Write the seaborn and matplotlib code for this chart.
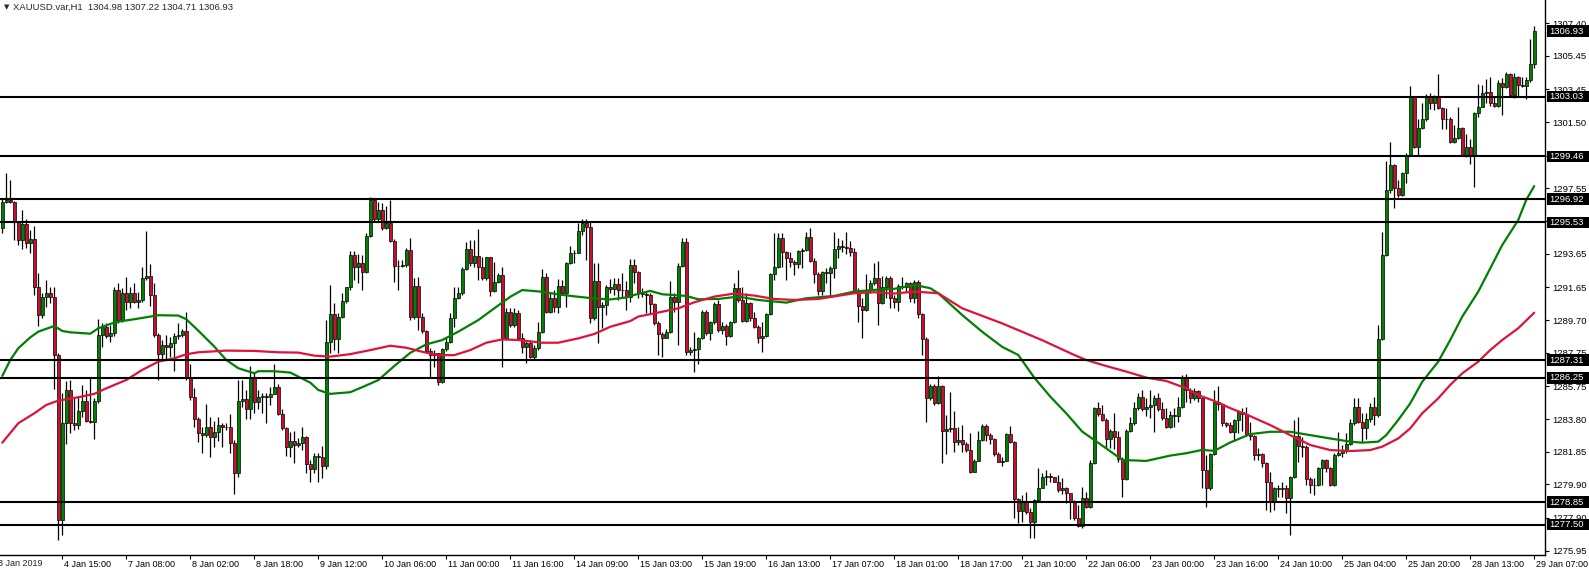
import numpy as np
import matplotlib
matplotlib.use("Agg")
import matplotlib.pyplot as plt
import matplotlib.transforms as mtransforms
from matplotlib.patches import Rectangle
import seaborn as sns

# XAUUSD H1 candles, bar 0 .. 383 (open of each bar = close of previous bar)
first_open = 1295.17
closes = [
    1296.77, 1296.86, 1296.77, 1295.57, 1294.48, 1295.43, 1294.28, 1294.52, 1291.70, 1290.01,  # 0
    1291.10, 1291.30, 1291.10, 1287.62, 1277.78, 1283.55, 1285.54, 1283.55, 1283.45, 1284.30,  # 10
    1284.90, 1283.71, 1283.65, 1284.90, 1288.81, 1289.31, 1288.75, 1288.91, 1291.50, 1289.71,  # 20
    1291.34, 1290.80, 1291.30, 1290.80, 1290.90, 1292.19, 1292.33, 1291.20, 1288.81, 1287.68,  # 30
    1288.22, 1288.12, 1288.36, 1288.75, 1288.81, 1289.07, 1286.23, 1285.14, 1283.79, 1282.95,  # 40
    1282.85, 1283.35, 1282.71, 1283.05, 1283.45, 1283.35, 1283.31, 1282.36, 1280.61, 1284.90,  # 50
    1284.98, 1284.38, 1286.33, 1284.84, 1285.10, 1285.18, 1285.14, 1285.30, 1285.73, 1284.10,  # 60
    1283.25, 1282.12, 1282.51, 1282.24, 1282.39, 1282.75, 1281.12, 1280.80, 1281.60, 1281.56,  # 70
    1281.00, 1288.37, 1290.04, 1288.55, 1289.90, 1290.83, 1291.65, 1293.58, 1292.84, 1293.08,  # 80
    1292.54, 1294.71, 1296.86, 1295.70, 1296.26, 1295.17, 1295.51, 1294.43, 1292.94, 1292.92,  # 90
    1292.98, 1293.88, 1289.86, 1291.73, 1289.86, 1289.05, 1287.87, 1287.61, 1287.71, 1286.02,  # 100
    1287.95, 1288.41, 1289.80, 1291.00, 1291.29, 1292.72, 1293.92, 1293.08, 1293.52, 1292.84,  # 110
    1292.19, 1293.44, 1291.45, 1291.99, 1292.39, 1288.61, 1290.20, 1289.40, 1290.14, 1288.61,  # 120
    1288.11, 1288.35, 1287.52, 1288.01, 1289.01, 1292.25, 1290.20, 1291.00, 1290.46, 1291.73,  # 130
    1291.33, 1293.08, 1293.68, 1293.72, 1295.03, 1295.51, 1295.23, 1289.80, 1292.05, 1290.46,  # 140
    1290.60, 1291.65, 1291.53, 1291.85, 1291.49, 1291.50, 1291.10, 1292.99, 1292.55, 1291.30,  # 150
    1291.24, 1291.20, 1290.64, 1289.51, 1288.85, 1288.66, 1288.97, 1291.10, 1290.76, 1292.95,  # 160
    1294.34, 1287.82, 1287.92, 1287.98, 1288.62, 1290.21, 1288.91, 1289.57, 1290.64, 1289.11,  # 170
    1289.37, 1288.78, 1289.57, 1291.60, 1290.90, 1289.65, 1290.70, 1289.81, 1289.31, 1288.62,  # 180
    1288.78, 1290.05, 1292.43, 1292.89, 1294.58, 1293.74, 1293.39, 1293.15, 1293.03, 1293.82,  # 190
    1293.88, 1294.68, 1293.23, 1292.43, 1291.44, 1292.55, 1292.49, 1292.83, 1293.94, 1294.14,  # 200
    1294.08, 1293.98, 1293.78, 1291.40, 1290.56, 1290.31, 1291.50, 1291.90, 1292.23, 1290.70,  # 210
    1291.70, 1292.23, 1291.00, 1290.80, 1291.76, 1291.70, 1291.90, 1291.04, 1291.96, 1290.05,  # 220
    1288.58, 1285.04, 1285.79, 1284.74, 1285.79, 1283.09, 1283.21, 1283.25, 1282.41, 1282.55,  # 230
    1282.29, 1281.96, 1280.62, 1281.30, 1282.55, 1283.41, 1282.85, 1282.61, 1281.70, 1281.26,  # 240
    1281.30, 1282.89, 1282.41, 1279.03, 1278.32, 1278.83, 1278.24, 1277.64, 1278.97, 1279.71,  # 250
    1280.37, 1280.42, 1280.37, 1280.07, 1279.57, 1279.71, 1279.37, 1278.87, 1277.92, 1277.44,  # 260
    1279.11, 1278.58, 1281.16, 1284.48, 1284.08, 1283.74, 1282.61, 1283.09, 1282.75, 1281.42,  # 270
    1280.23, 1283.09, 1283.55, 1284.44, 1285.14, 1284.40, 1284.54, 1284.64, 1285.04, 1284.40,  # 280
    1283.88, 1283.35, 1284.04, 1284.00, 1284.54, 1286.33, 1285.53, 1285.08, 1285.47, 1285.04,  # 290
    1280.76, 1279.71, 1281.70, 1284.84, 1284.68, 1283.55, 1283.45, 1283.05, 1283.74, 1284.20,  # 300
    1284.08, 1282.89, 1282.78, 1281.65, 1281.71, 1281.19, 1280.06, 1278.87, 1279.66, 1279.60,  # 310
    1279.66, 1279.07, 1280.36, 1282.78, 1282.19, 1282.15, 1280.20, 1279.86, 1279.86, 1280.86,  # 320
    1281.35, 1280.86, 1279.86, 1281.65, 1281.75, 1281.95, 1282.31, 1283.54, 1284.53, 1283.64,  # 330
    1283.24, 1283.78, 1284.53, 1284.04, 1288.55, 1293.58, 1297.45, 1298.94, 1297.55, 1297.16,  # 340
    1298.45, 1299.54, 1302.98, 1300.04, 1301.13, 1301.67, 1302.98, 1302.62, 1302.98, 1302.32,  # 350
    1301.67, 1301.67, 1300.34, 1300.53, 1301.13, 1299.54, 1300.04, 1299.48, 1302.02, 1302.42,  # 360
    1303.26, 1303.32, 1302.62, 1302.46, 1303.85, 1303.61, 1304.37, 1303.12, 1304.17, 1303.71,  # 370
    1303.65, 1304.01, 1304.98, 1306.93,  # 380
]
highs = [
    1296.90, 1298.45, 1298.06, 1296.82, 1295.61, 1296.27, 1295.71, 1295.08, 1295.31, 1292.49,  # 0
    1291.34, 1292.09, 1291.66, 1291.66, 1287.76, 1285.34, 1286.09, 1286.13, 1285.10, 1285.14,  # 10
    1285.81, 1285.54, 1286.33, 1285.04, 1289.75, 1289.51, 1289.51, 1289.41, 1291.70, 1291.90,  # 20
    1291.60, 1292.29, 1291.70, 1291.94, 1291.40, 1292.89, 1295.02, 1293.05, 1291.94, 1288.91,  # 30
    1288.52, 1288.81, 1288.71, 1288.91, 1289.55, 1289.15, 1290.21, 1287.09, 1285.63, 1283.91,  # 40
    1283.35, 1284.70, 1283.94, 1283.71, 1283.94, 1283.59, 1283.59, 1284.10, 1282.55, 1286.13,  # 50
    1286.13, 1285.54, 1286.97, 1286.53, 1285.54, 1285.34, 1285.38, 1285.73, 1287.09, 1285.89,  # 60
    1284.38, 1283.35, 1283.05, 1283.11, 1282.65, 1283.35, 1282.79, 1281.36, 1281.76, 1281.76,  # 70
    1282.20, 1289.70, 1291.79, 1290.70, 1290.14, 1291.29, 1291.69, 1293.84, 1293.84, 1293.64,  # 80
    1293.58, 1294.87, 1297.06, 1296.92, 1296.76, 1296.70, 1296.50, 1296.86, 1294.51, 1293.28,  # 90
    1293.28, 1293.98, 1294.57, 1292.19, 1292.25, 1290.10, 1289.11, 1288.01, 1287.91, 1287.61,  # 100
    1288.01, 1288.71, 1290.14, 1291.65, 1291.65, 1292.84, 1294.37, 1294.47, 1294.47, 1295.11,  # 110
    1293.48, 1293.48, 1293.38, 1293.18, 1292.52, 1292.88, 1290.40, 1290.40, 1290.40, 1290.30,  # 120
    1288.91, 1288.51, 1288.51, 1288.21, 1289.60, 1292.72, 1292.48, 1291.29, 1291.49, 1292.13,  # 130
    1292.09, 1293.18, 1294.11, 1293.88, 1295.51, 1295.70, 1295.70, 1295.63, 1293.08, 1293.08,  # 140
    1290.80, 1291.79, 1292.13, 1292.19, 1292.19, 1292.49, 1292.03, 1293.35, 1293.35, 1292.63,  # 150
    1291.60, 1291.40, 1291.30, 1290.70, 1289.65, 1289.01, 1289.17, 1292.03, 1291.30, 1293.09,  # 160
    1294.58, 1294.58, 1288.12, 1289.01, 1288.72, 1290.31, 1290.31, 1289.65, 1290.76, 1290.90,  # 170
    1289.61, 1289.45, 1289.65, 1291.90, 1292.69, 1291.70, 1291.30, 1290.76, 1290.21, 1289.41,  # 180
    1289.61, 1290.11, 1292.49, 1294.88, 1294.88, 1294.88, 1293.82, 1293.78, 1293.29, 1293.88,  # 190
    1293.98, 1294.98, 1295.21, 1293.39, 1292.55, 1292.63, 1292.83, 1292.95, 1294.94, 1294.58,  # 200
    1294.48, 1294.94, 1294.42, 1293.98, 1291.60, 1291.00, 1292.43, 1292.09, 1293.09, 1293.23,  # 210
    1292.35, 1292.35, 1292.35, 1291.20, 1291.84, 1292.29, 1292.00, 1292.00, 1292.09, 1292.09,  # 220
    1290.11, 1288.72, 1285.87, 1285.87, 1286.39, 1285.83, 1284.04, 1285.39, 1284.28, 1283.35,  # 230
    1283.45, 1282.41, 1282.95, 1281.42, 1283.09, 1283.49, 1283.49, 1282.95, 1282.69, 1281.82,  # 240
    1281.56, 1282.95, 1283.41, 1282.49, 1279.11, 1279.27, 1279.43, 1278.48, 1279.03, 1280.90,  # 250
    1280.56, 1280.76, 1280.56, 1280.23, 1280.46, 1280.27, 1279.77, 1278.91, 1278.97, 1278.68,  # 260
    1279.77, 1279.47, 1281.36, 1284.54, 1284.84, 1284.64, 1283.84, 1283.21, 1284.14, 1283.09,  # 270
    1281.56, 1283.21, 1283.94, 1284.84, 1285.33, 1285.53, 1285.08, 1285.53, 1285.23, 1285.33,  # 280
    1284.80, 1284.44, 1284.28, 1284.44, 1285.13, 1286.43, 1286.47, 1285.63, 1285.63, 1285.53,  # 290
    1285.04, 1281.66, 1281.76, 1285.53, 1285.79, 1284.74, 1283.64, 1283.64, 1283.80, 1284.34,  # 300
    1284.48, 1284.54, 1283.64, 1282.84, 1282.05, 1281.79, 1281.25, 1280.66, 1279.76, 1279.86,  # 310
    1280.06, 1279.86, 1280.40, 1283.74, 1283.90, 1282.74, 1282.25, 1280.36, 1280.26, 1280.96,  # 320
    1281.39, 1281.39, 1280.96, 1281.75, 1283.04, 1282.25, 1282.94, 1283.78, 1285.03, 1285.03,  # 330
    1284.14, 1284.14, 1284.73, 1285.09, 1289.40, 1294.97, 1299.20, 1300.34, 1299.00, 1298.05,  # 340
    1298.55, 1299.64, 1303.65, 1303.02, 1301.67, 1302.62, 1303.18, 1303.26, 1303.12, 1304.37,  # 350
    1302.38, 1302.32, 1301.83, 1301.33, 1302.38, 1301.19, 1300.79, 1300.47, 1302.12, 1303.77,  # 360
    1303.71, 1304.05, 1304.21, 1303.02, 1304.01, 1304.11, 1304.51, 1304.45, 1304.45, 1304.25,  # 370
    1304.17, 1304.21, 1306.44, 1307.22,  # 380
]
lows = [
    1294.88, 1296.71, 1296.71, 1294.48, 1294.18, 1293.92, 1293.98, 1293.68, 1291.20, 1289.37,  # 0
    1289.81, 1290.50, 1290.74, 1285.57, 1276.59, 1276.89, 1282.32, 1282.95, 1283.15, 1283.19,  # 10
    1283.94, 1283.65, 1283.55, 1282.59, 1284.74, 1288.12, 1288.62, 1288.42, 1288.75, 1289.51,  # 20
    1289.61, 1290.30, 1290.40, 1290.70, 1290.40, 1290.80, 1292.09, 1290.56, 1288.71, 1286.13,  # 30
    1287.36, 1287.32, 1287.52, 1286.69, 1288.56, 1288.72, 1286.13, 1284.94, 1283.35, 1282.45,  # 40
    1281.80, 1282.75, 1281.56, 1282.12, 1282.51, 1282.16, 1283.15, 1281.76, 1279.33, 1280.37,  # 50
    1284.54, 1283.79, 1283.79, 1284.14, 1284.38, 1284.14, 1283.55, 1284.64, 1285.54, 1284.04,  # 60
    1283.15, 1281.62, 1281.56, 1281.16, 1282.16, 1281.96, 1280.57, 1280.07, 1280.57, 1280.07,  # 70
    1280.30, 1280.80, 1287.71, 1287.91, 1287.71, 1289.80, 1290.70, 1291.49, 1292.09, 1291.89,  # 80
    1291.49, 1292.48, 1294.63, 1295.63, 1295.57, 1295.07, 1295.11, 1294.37, 1291.99, 1291.49,  # 90
    1292.88, 1292.88, 1289.70, 1289.74, 1289.11, 1288.91, 1287.71, 1286.32, 1286.92, 1285.83,  # 100
    1285.93, 1287.87, 1288.31, 1289.30, 1290.93, 1291.19, 1292.68, 1292.92, 1292.84, 1292.09,  # 110
    1292.09, 1292.09, 1291.13, 1291.39, 1291.89, 1286.92, 1288.51, 1289.30, 1289.30, 1288.51,  # 120
    1287.71, 1287.12, 1287.42, 1287.32, 1287.91, 1288.91, 1290.14, 1290.14, 1290.20, 1290.14,  # 130
    1291.19, 1290.50, 1293.04, 1293.08, 1293.68, 1294.77, 1293.28, 1289.50, 1289.70, 1288.35,  # 140
    1289.20, 1290.00, 1291.29, 1291.19, 1290.89, 1291.00, 1290.31, 1290.76, 1291.90, 1291.04,  # 150
    1291.10, 1290.11, 1290.05, 1289.41, 1287.62, 1287.52, 1288.66, 1288.91, 1290.21, 1288.22,  # 160
    1292.89, 1287.62, 1287.62, 1286.63, 1287.07, 1288.58, 1288.81, 1288.52, 1289.45, 1289.01,  # 170
    1288.85, 1288.22, 1288.72, 1289.51, 1290.76, 1289.61, 1289.61, 1289.65, 1289.25, 1288.32,  # 180
    1287.82, 1288.72, 1290.01, 1292.09, 1292.83, 1292.89, 1292.09, 1292.89, 1292.39, 1292.83,  # 190
    1292.83, 1293.82, 1293.19, 1291.90, 1291.20, 1291.20, 1291.90, 1291.20, 1292.19, 1293.43,  # 200
    1293.78, 1293.62, 1293.55, 1291.30, 1289.57, 1288.66, 1290.25, 1291.30, 1291.80, 1289.41,  # 210
    1290.64, 1291.00, 1290.44, 1290.44, 1290.25, 1291.56, 1291.40, 1290.76, 1290.70, 1289.81,  # 220
    1287.62, 1283.60, 1284.94, 1284.64, 1284.68, 1281.16, 1281.70, 1283.05, 1281.86, 1282.25,  # 230
    1281.86, 1281.86, 1280.56, 1280.66, 1281.46, 1282.49, 1282.49, 1282.29, 1281.62, 1281.22,  # 240
    1281.02, 1281.30, 1282.35, 1277.92, 1277.58, 1277.68, 1278.12, 1276.69, 1276.69, 1278.87,  # 250
    1279.67, 1279.87, 1280.07, 1280.03, 1279.43, 1279.31, 1278.77, 1277.84, 1277.78, 1277.38,  # 260
    1277.32, 1278.48, 1278.52, 1281.10, 1284.00, 1283.68, 1282.05, 1282.09, 1282.01, 1281.22,  # 270
    1279.17, 1280.17, 1283.01, 1283.45, 1284.34, 1284.28, 1284.00, 1283.84, 1283.01, 1284.28,  # 280
    1283.74, 1283.29, 1283.29, 1283.35, 1283.64, 1284.44, 1284.84, 1284.74, 1284.94, 1284.84,  # 290
    1279.71, 1278.58, 1279.57, 1281.66, 1284.34, 1283.41, 1283.35, 1282.95, 1282.49, 1282.95,  # 300
    1283.09, 1282.81, 1282.55, 1281.35, 1281.35, 1280.96, 1278.37, 1278.27, 1278.37, 1279.17,  # 310
    1279.17, 1278.21, 1276.88, 1280.26, 1281.25, 1281.55, 1279.86, 1279.40, 1279.26, 1279.80,  # 320
    1279.86, 1280.66, 1279.80, 1279.80, 1281.59, 1281.55, 1281.75, 1282.25, 1283.44, 1283.54,  # 330
    1282.45, 1282.59, 1283.64, 1283.44, 1283.94, 1288.51, 1293.52, 1297.25, 1296.36, 1297.02,  # 340
    1297.10, 1297.89, 1299.48, 1299.94, 1299.54, 1301.07, 1301.59, 1302.26, 1302.22, 1302.26,  # 350
    1301.07, 1301.07, 1300.28, 1300.28, 1300.47, 1299.48, 1299.44, 1299.00, 1297.61, 1301.83,  # 360
    1302.38, 1302.62, 1302.46, 1302.38, 1302.38, 1301.93, 1303.52, 1303.02, 1302.92, 1302.98,  # 370
    1303.57, 1302.86, 1303.91, 1304.71,  # 380
]

# moving averages, read at sample bars
fast_ma_bars = [
    0, 2, 4, 7, 9, 13, 15, 17, 22, 24,
    27, 29, 33, 36, 39, 44, 46, 49, 53, 56,
    59, 63, 64, 68, 72, 74, 77, 79, 82, 87,
    90, 94, 98, 102, 106, 110, 114, 119, 123, 127,
    130, 135, 139, 144, 148, 152, 156, 158, 162, 165,
    171, 174, 179, 184, 189, 196, 201, 208, 213, 218,
    223, 228, 232, 234, 240, 245, 250, 254, 258, 262,
    266, 270, 273, 276, 280, 286, 292, 296, 300, 303,
    307, 312, 317, 322, 327, 332, 337, 340, 344, 346,
    349, 352, 355, 359, 362, 365, 369, 372, 375, 379,
    381, 383,
]
fast_ma = [
    1286.37, 1287.32, 1288.02, 1288.67, 1289.01, 1289.35, 1289.05, 1288.97, 1288.89, 1289.21,
    1289.47, 1289.61, 1289.75, 1289.87, 1289.99, 1289.97, 1289.75, 1289.07, 1288.12, 1287.32,
    1286.83, 1286.53, 1286.65, 1286.65, 1286.57, 1286.33, 1285.97, 1285.53, 1285.30, 1285.40,
    1285.70, 1286.12, 1286.96, 1287.75, 1288.25, 1288.51, 1289.01, 1289.70, 1290.40, 1291.09,
    1291.49, 1291.39, 1291.23, 1291.09, 1290.99, 1290.93, 1291.05, 1291.20, 1291.44, 1291.24,
    1291.14, 1290.94, 1290.96, 1291.10, 1290.90, 1290.74, 1291.00, 1291.14, 1291.40, 1291.50,
    1291.56, 1291.80, 1291.60, 1291.30, 1290.00, 1289.00, 1288.10, 1287.62, 1286.27, 1285.14,
    1284.14, 1283.05, 1282.55, 1282.05, 1281.36, 1281.30, 1281.62, 1281.76, 1281.96, 1281.90,
    1282.40, 1282.90, 1283.04, 1283.04, 1282.84, 1282.64, 1282.45, 1282.39, 1282.45, 1282.84,
    1283.74, 1284.73, 1286.02, 1287.22, 1288.51, 1289.90, 1291.39, 1292.78, 1294.17, 1295.66,
    1296.86, 1297.69,
]
slow_ma_bars = [
    0, 4, 8, 11, 14, 19, 23, 26, 31, 35,
    39, 43, 46, 49, 56, 63, 69, 74, 78, 82,
    87, 92, 97, 101, 105, 109, 113, 117, 121, 125,
    129, 135, 139, 144, 148, 152, 157, 159, 164, 169,
    173, 178, 183, 188, 193, 198, 204, 213, 218, 223,
    228, 234, 240, 250, 260, 268, 271, 276, 281, 286,
    291, 296, 299, 303, 307, 312, 317, 322, 327, 332,
    337, 342, 345, 349, 352, 355, 359, 362, 365, 369,
    372, 375, 379, 383,
]
slow_ma = [
    1282.39, 1283.55, 1284.14, 1284.64, 1284.90, 1285.10, 1285.30, 1285.63, 1286.13, 1286.73,
    1287.22, 1287.42, 1287.66, 1287.78, 1287.88, 1287.86, 1287.78, 1287.76, 1287.58, 1287.52,
    1287.67, 1287.91, 1288.17, 1288.05, 1287.81, 1287.61, 1287.61, 1287.91, 1288.35, 1288.55,
    1288.51, 1288.35, 1288.35, 1288.61, 1288.87, 1289.30, 1289.64, 1289.91, 1290.15, 1290.40,
    1290.76, 1291.10, 1291.28, 1291.16, 1290.96, 1290.90, 1290.96, 1291.30, 1291.36, 1291.28,
    1291.40, 1291.30, 1290.40, 1289.50, 1288.50, 1287.62, 1287.32, 1286.96, 1286.63, 1286.27,
    1286.07, 1285.63, 1285.23, 1284.88, 1284.45, 1283.97, 1283.44, 1282.84, 1282.25, 1281.95,
    1281.89, 1281.95, 1282.15, 1282.64, 1283.24, 1284.14, 1285.03, 1285.83, 1286.52, 1287.22,
    1287.91, 1288.51, 1289.21, 1290.14,
]

level_lines = [1303.03, 1299.46, 1296.92, 1295.53, 1287.31, 1286.25, 1278.85, 1277.50]
last_price = 1306.93
price_ticks = [1275.95, 1277.90, 1279.90, 1281.85, 1283.80, 1285.75, 1287.75, 1289.70, 1291.65,
               1293.65, 1295.60, 1297.55, 1299.50, 1301.50, 1303.45, 1305.45, 1307.40]
date_labels = ["4 Jan 15:00", "7 Jan 08:00", "8 Jan 02:00", "8 Jan 18:00", "9 Jan 12:00",
               "10 Jan 06:00", "11 Jan 00:00", "11 Jan 16:00", "14 Jan 09:00", "15 Jan 03:00",
               "15 Jan 19:00", "16 Jan 13:00", "17 Jan 07:00", "18 Jan 01:00", "18 Jan 17:00",
               "21 Jan 10:00", "22 Jan 06:00", "23 Jan 00:00", "23 Jan 16:00", "24 Jan 10:00",
               "25 Jan 04:00", "25 Jan 20:00", "28 Jan 13:00", "29 Jan 07:00"]
first_label = "3 Jan 2019"
title = "XAUUSD.var,H1  1304.98 1307.22 1304.71 1306.93"

sns.set_style("white")
plt.rcParams['font.family'] = ['Liberation Sans', 'DejaVu Sans']

W, H = 1589, 572
bottom_px = 555
fig = plt.figure(figsize=(W / 100, H / 100), dpi=100)
ax = fig.add_axes([0, (H - bottom_px) / H, 1545 / W, bottom_px / H])
fs = 6.8
fs_x = 6.5

n = len(closes)
x = np.arange(n)
c = np.array(closes)
o = np.array([first_open] + closes[:-1])
hi = np.maximum(np.array(highs), np.maximum(o, c))
lo = np.minimum(np.array(lows), np.minimum(o, c))

bull = "#008000"
bear = "#C8102E"
body_colors = [bull if cc >= oo else bear for oo, cc in zip(o, c)]
body_h = np.maximum(np.abs(c - o), 0.02)

# candles
ax.vlines(x, lo, hi, color="black", lw=0.9, zorder=2)
ax.bar(x, body_h, bottom=np.minimum(o, c), width=0.72, color=body_colors,
       edgecolor="black", linewidth=0.5, zorder=3)

# moving averages
sns.lineplot(x=fast_ma_bars, y=fast_ma, ax=ax, color="#008000", lw=1.6, zorder=4)
sns.lineplot(x=slow_ma_bars, y=slow_ma, ax=ax, color="#DC143C", lw=1.6, zorder=4)

# horizontal levels
for lv in level_lines:
    ax.axhline(lv, color="black", lw=1.5, zorder=5)

# 16.77 px per dollar, 1296.92 sits at y=199 px
ax.set_xlim(-0.575, 385.7)
ax.set_ylim(1296.92 - (bottom_px - 199) / 16.77, 1296.92 + 199 / 16.77)

for side in ["left", "top"]:
    ax.spines[side].set_visible(False)
for side in ["right", "bottom"]:
    ax.spines[side].set_color("black")
    ax.spines[side].set_linewidth(1.0)

ax.yaxis.tick_right()
ax.set_yticks(price_ticks)
ax.set_yticklabels([f"{v:.2f}" for v in price_ticks])
ax.tick_params(axis="y", direction="out", length=3, width=0.8, pad=2,
               labelsize=fs, colors="black", right=True, left=False)

ax.set_xticks(list(range(15, n, 16)))
ax.set_xticklabels(date_labels, ha="left")
ax.tick_params(axis="x", direction="out", length=3, width=0.8, pad=0.5,
               labelsize=fs_x, colors="black", bottom=True)
shift = mtransforms.ScaledTranslation(2 / 100, 0, fig.dpi_scale_trans)
for lab in ax.get_xticklabels():
    lab.set_transform(lab.get_transform() + shift)
ax.set_xlabel("")
ax.set_ylabel("")

fig.text(-2 / W, 1 - 563 / H, first_label, fontsize=fs_x, va="center", ha="left")

# price boxes on the right scale
blend = mtransforms.blended_transform_factory(fig.transFigure, ax.transData)
hh = 5.8 / 16.77
for lv in level_lines + [last_price]:
    ax.add_patch(Rectangle((1547 / W, lv - hh), 42 / W, 2 * hh, transform=blend,
                           facecolor="black", edgecolor="none", clip_on=False, zorder=10))
    ax.text(1549 / W, lv, f"{lv:.2f}", transform=blend, color="white", fontsize=fs,
            va="center", ha="left", clip_on=False, zorder=11)

# header
fig.text(4 / W, 1 - 7 / H, "\u25bc", fontsize=5, va="center", ha="left",
         family=["DejaVu Sans"])
fig.text(13 / W, 1 - 7 / H, title, fontsize=fs, va="center", ha="left")

fig.savefig("out.png", dpi=100, facecolor="white")
